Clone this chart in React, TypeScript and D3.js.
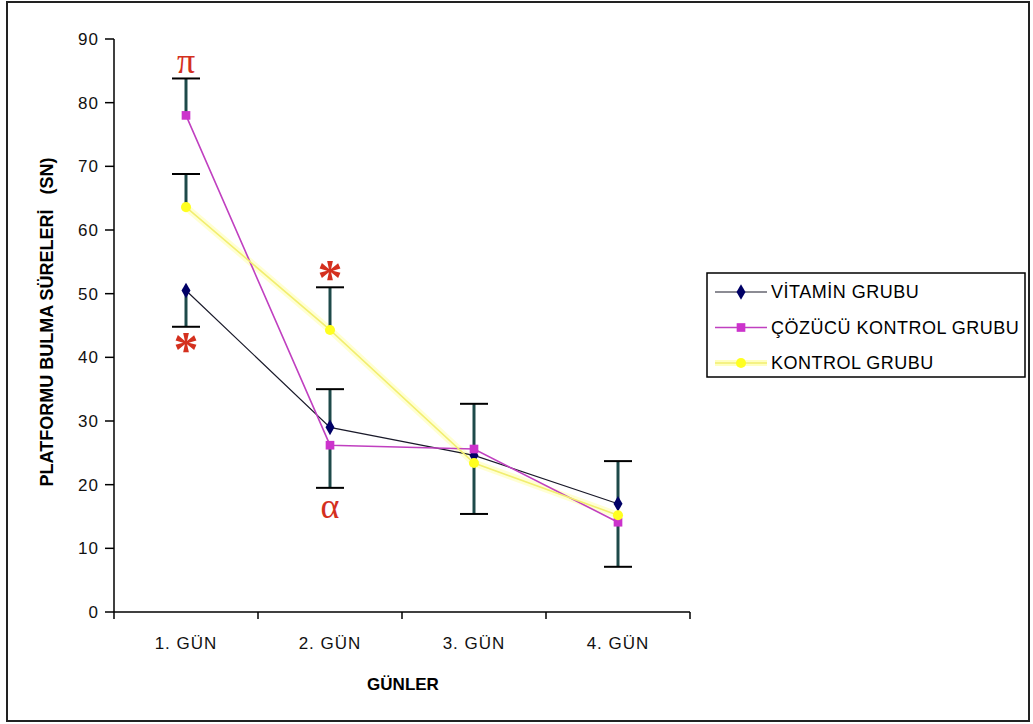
import React from 'react';
import * as d3 from 'd3';

const days = ['1. GÜN', '2. GÜN', '3. GÜN', '4. GÜN'];
const yTicks = [0, 10, 20, 30, 40, 50, 60, 70, 80, 90];

const vitamin = [50.5, 29.0, 24.6, 17.0];
const vitaminUp = [0, 6.0, 0, 6.7];
const vitaminDown = [5.7, 0, 0, 0];

const solvent = [78.0, 26.2, 25.6, 14.1];
const solventUp = [5.8, 0, 7.1, 0];
const solventDown = [0, 6.7, 0, 7.0];

const control = [63.6, 44.3, 23.4, 15.2];
const controlUp = [5.2, 6.7, 0, 0];
const controlDown = [0, 0, 8.0, 0];

const seriesNames = ['VİTAMİN GRUBU', 'ÇÖZÜCÜ KONTROL GRUBU', 'KONTROL GRUBU'];

// significance marks: day index, value they sit at, symbol
const marks = [
  { day: 0, value: 86.3, sym: 'π' },
  { day: 0, value: 43.5, sym: '*' },
  { day: 1, value: 54.8, sym: '*' },
  { day: 1, value: 16.5, sym: 'α' },
];

const width = 1033;
const height = 724;

export default function App() {
  const x = d3.scaleBand().domain(days).range([114, 690]);
  const y = d3.scaleLinear().domain([0, 90]).range([612, 39]);
  const cx = (i) => x(days[i]) + x.bandwidth() / 2;

  const series = [
    { name: seriesNames[0], values: vitamin, up: vitaminUp, down: vitaminDown, line: '#1a1a2a', lw: 1.2, fill: '#000066', shape: d3.symbolDiamond, size: 70 },
    { name: seriesNames[1], values: solvent, up: solventUp, down: solventDown, line: '#c040c0', lw: 1.6, fill: '#cc33cc', shape: d3.symbolSquare, size: 75 },
    { name: seriesNames[2], values: control, up: controlUp, down: controlDown, line: '#f2ee70', lw: 1.6, fill: '#ffff20', shape: d3.symbolCircle, size: 80 },
  ];

  const line = d3.line().x((d, i) => cx(i)).y((d) => y(d));

  const errBars = [];
  series.forEach((s, si) => {
    s.values.forEach((v, i) => {
      [s.up[i], -s.down[i]].forEach((e, k) => {
        if (!e) return;
        errBars.push({ key: `${si}-${i}-${k}`, x: cx(i), y0: y(v), y1: y(v + e) });
      });
    });
  });

  const font = 'Liberation Sans, Arial, sans-serif';

  return (
    <div style={{ position: 'absolute', left: 0, top: 0 }}>
      <svg width={width} height={height} style={{ display: 'block', background: '#fff' }}>
        <rect x={7} y={2} width={1022} height={719} fill="#fff" stroke="#222" strokeWidth={2} />

        {/* y axis */}
        <line x1={114} x2={114} y1={y(90)} y2={y(0)} stroke="#000" strokeWidth={1.5} />
        {yTicks.map((t) => (
          <g key={t}>
            <line x1={105} x2={114} y1={y(t)} y2={y(t)} stroke="#000" strokeWidth={1.5} />
            <text x={99} y={y(t)} dy="0.35em" textAnchor="end" fontFamily={font} fontSize={17} letterSpacing={1} fill="#111">
              {t}
            </text>
          </g>
        ))}

        {/* x axis */}
        <line x1={114} x2={690} y1={y(0)} y2={y(0)} stroke="#000" strokeWidth={1.5} />
        {[...days.map((d) => x(d)), 690].map((p, i) => (
          <line key={i} x1={p} x2={p} y1={y(0)} y2={y(0) + 7} stroke="#000" strokeWidth={1.5} />
        ))}
        {days.map((d, i) => (
          <text key={d} x={cx(i)} y={649} textAnchor="middle" fontFamily={font} fontSize={17} letterSpacing={1} fill="#111">
            {d}
          </text>
        ))}

        <text x={403} y={690} textAnchor="middle" fontFamily={font} fontSize={17} fontWeight="bold">
          GÜNLER
        </text>
        <text transform="translate(53,322) rotate(-90)" textAnchor="middle" fontFamily={font} fontSize={18} fontWeight="bold" style={{ whiteSpace: 'pre' }}>
          {'PLATFORMU BULMA SÜRELERİ\u00a0\u00a0 (SN)'}
        </text>

        {/* series lines */}
        <path d={line(control)} fill="none" stroke="#ffffc0" strokeWidth={7} opacity={0.7} />
        {series.map((s) => (
          <path key={s.name} d={line(s.values)} fill="none" stroke={s.line} strokeWidth={s.lw} />
        ))}

        {/* error bars */}
        {errBars.map((b) => (
          <g key={b.key}>
            <line x1={b.x} x2={b.x} y1={b.y0} y2={b.y1} stroke="#1e4a4a" strokeWidth={3} />
            <line x1={b.x - 14} x2={b.x + 14} y1={b.y1} y2={b.y1} stroke="#000" strokeWidth={2} />
          </g>
        ))}

        {/* markers */}
        {series.map((s) =>
          s.values.map((v, i) => (
            <path
              key={s.name + i}
              d={d3.symbol().type(s.shape).size(s.size)()}
              transform={`translate(${cx(i)},${y(v)})`}
              fill={s.fill}
            />
          ))
        )}

        {/* significance marks */}
        {marks.map((m, i) => (
          <text
            key={i}
            x={cx(m.day)}
            y={y(m.value)}
            textAnchor="middle"
            fontFamily="Liberation Serif, Times New Roman, serif"
            fontSize={m.sym === '*' ? 50 : 36}
            fontWeight={m.sym === '*' ? 'bold' : 'normal'}
            dy={m.sym === '*' ? '0.62em' : '0.3em'}
            fill="#d4301e"
          >
            {m.sym}
          </text>
        ))}

        {/* legend */}
        <rect x={707} y={273} width={318} height={104} fill="#fff" stroke="#000" strokeWidth={1.5} />
        {series.map((s, i) => {
          const ly = 292 + i * 35.5;
          return (
            <g key={s.name}>
              {i === 2 && <line x1={715} x2={767} y1={ly} y2={ly} stroke="#ffffc0" strokeWidth={6} />}
              <line x1={715} x2={767} y1={ly} y2={ly} stroke={s.line} strokeWidth={s.lw} />
              <path d={d3.symbol().type(s.shape).size(s.size)()} transform={`translate(741,${ly})`} fill={s.fill} />
              <text x={771} y={ly} dy="0.35em" fontFamily={font} fontSize={18} letterSpacing={0.5}>
                {s.name}
              </text>
            </g>
          );
        })}
      </svg>
    </div>
  );
}
